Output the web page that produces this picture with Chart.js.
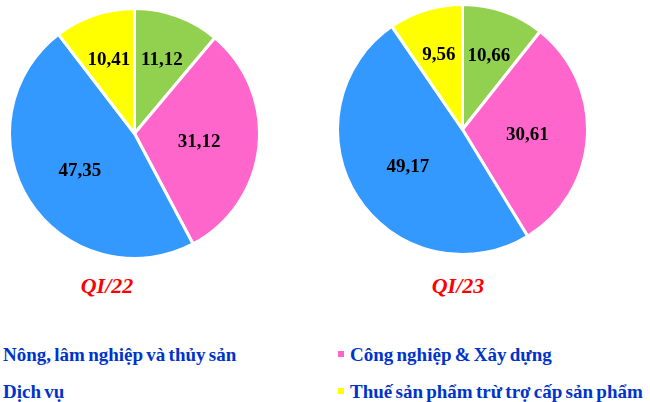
<!DOCTYPE html>
<html>
<head>
<meta charset="utf-8">
<script src="https://cdn.jsdelivr.net/npm/chart.js@4"></script>
<style>
  html, body { margin: 0; padding: 0; background: #ffffff; }
  body { width: 650px; height: 402px; position: relative; overflow: hidden; }
  .box { position: absolute; width: 253px; height: 253px; }
  .title { position: absolute; font-family: "Liberation Serif", serif; font-weight: bold; font-style: italic;
           font-size: 22px; color: #ff0000; white-space: nowrap; transform: translate(-50%, -50%); }
  .leg { position: absolute; font-family: "Liberation Serif", serif; font-weight: bold; font-size: 19px;
         color: #0033cc; white-space: nowrap; line-height: 1; word-spacing: -1.5px; }
  .mk { position: absolute; width: 6px; height: 6px; }
</style>
</head>
<body>
<div class="box" style="left:8px; top:7px;"><canvas id="c1"></canvas></div>
<div class="box" style="left:336px; top:3px;"><canvas id="c2"></canvas></div>
<div id="titles"></div>
<div id="legend"></div>
<script>
// ---- data ----
const categories = ["Nông, lâm nghiệp và thủy sản", "Công nghiệp & Xây dựng", "Dịch vụ", "Thuế sản phẩm trừ trợ cấp sản phẩm"];
const valuesQI22 = [11.12, 31.12, 47.35, 10.41];
const valuesQI23 = [10.66, 30.61, 49.17, 9.56];
const periodLabels = ["QI/22", "QI/23"];
const sliceColors = ["#92d050", "#ff66cc", "#3399ff", "#ffff00"];

function fmt(v) { return v.toFixed(2).replace('.', ','); }

const labelPlugin = {
  id: 'sliceLabels',
  afterDatasetsDraw(chart) {
    const ctx = chart.ctx;
    const meta = chart.getDatasetMeta(0);
    const data = chart.data.datasets[0].data;
    const total = data.reduce((a, b) => a + b, 0);
    ctx.save();
    ctx.font = 'bold 19px "Liberation Serif", serif';
    ctx.fillStyle = '#000000';
    ctx.textAlign = 'center';
    ctx.textBaseline = 'middle';
    meta.data.forEach((arc, i) => {
      const p = arc.getProps(['x', 'y', 'startAngle', 'endAngle', 'outerRadius'], true);
      const mid = (p.startAngle + p.endAngle) / 2;
      const frac = data[i] / total < 0.15 ? 0.64 : 0.52;
      const r = p.outerRadius * frac;
      ctx.fillText(fmt(data[i]), p.x + Math.cos(mid) * r, p.y + Math.sin(mid) * r + 2);
    });
    ctx.restore();
  }
};

function makePie(id, values) {
  return new Chart(document.getElementById(id), {
    type: 'pie',
    data: {
      labels: categories,
      datasets: [{
        data: values,
        backgroundColor: sliceColors,
        borderColor: '#ffffff',
        borderWidth: 3,
        hoverOffset: 0,
        offset: 0
      }]
    },
    options: {
      responsive: true,
      maintainAspectRatio: false,
      animation: false,
      layout: { padding: 0 },
      plugins: { legend: { display: false }, tooltip: { enabled: false }, title: { display: false } },
      events: []
    },
    plugins: [labelPlugin]
  });
}

makePie('c1', valuesQI22);
makePie('c2', valuesQI23);

// titles
const titlePos = [[107, 286], [458, 286]];
const tDiv = document.getElementById('titles');
periodLabels.forEach((t, i) => {
  const d = document.createElement('div');
  d.className = 'title';
  d.textContent = t;
  d.style.left = titlePos[i][0] + 'px';
  d.style.top = titlePos[i][1] + 'px';
  tDiv.appendChild(d);
});

// legend (2 columns x 2 rows)
const legPos = [[3, 345], [350, 345], [3, 382], [350, 382]];
const lDiv = document.getElementById('legend');
categories.forEach((c, i) => {
  const t = document.createElement('div');
  t.className = 'leg';
  t.textContent = c;
  t.style.left = legPos[i][0] + 'px';
  t.style.top = legPos[i][1] + 'px';
  lDiv.appendChild(t);
  const m = document.createElement('div');
  m.className = 'mk';
  m.style.background = sliceColors[i];
  m.style.left = (legPos[i][0] - 12) + 'px';
  m.style.top = (legPos[i][1] + 6) + 'px';
  lDiv.appendChild(m);
});
</script>
</body>
</html>
